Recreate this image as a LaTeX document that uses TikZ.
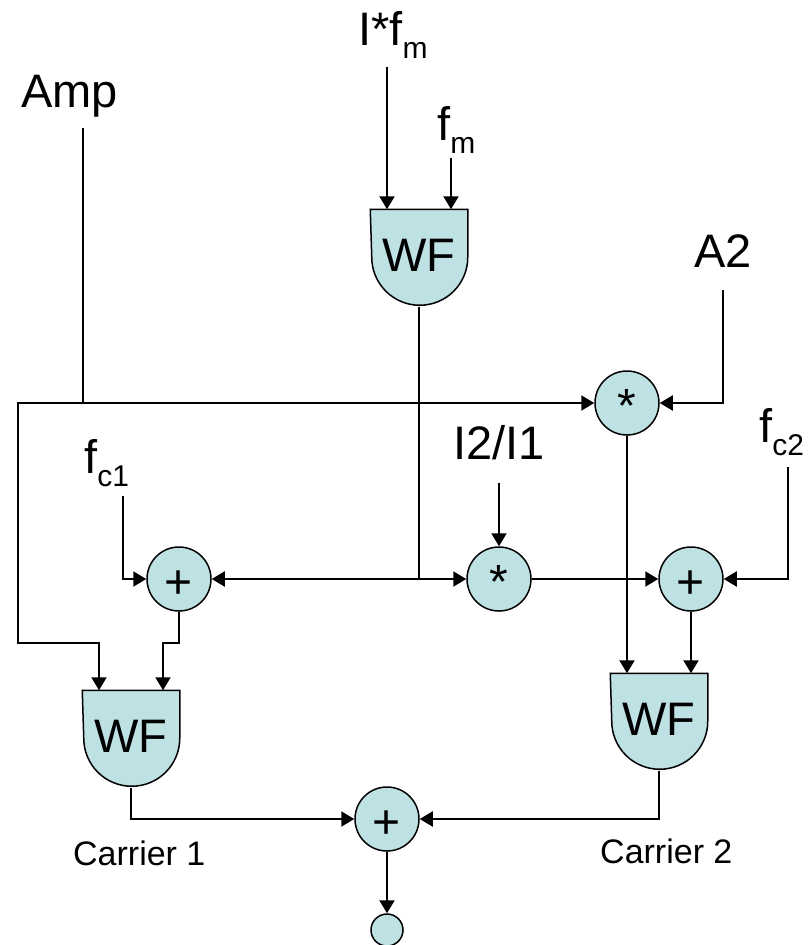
\documentclass[tikz,border=0pt]{standalone}
\usepackage{fontspec}
\setmainfont{Liberation Sans}
\usetikzlibrary{arrows.meta,calc}
\pgfdeclarelayer{background}
\pgfsetlayers{background,main}
\definecolor{boxfill}{RGB}{190,225,228}
\newcommand{\bigf}{\fontsize{47}{50}\selectfont}
\newcommand{\subf}[1]{\raisebox{-13pt}{\fontsize{30}{32}\selectfont #1}}
\begin{document}
\begin{tikzpicture}[x=1pt,y=-1pt,
  wire/.style={line width=2pt},
  arr/.style={wire,-{Triangle[length=13pt,width=15pt]}},
  opnode/.style={circle,draw,line width=1.5pt,fill=boxfill,minimum size=64pt,inner sep=0pt,font=\fontsize{48}{48}\selectfont,text height=38pt,text depth=0pt},
  wfbox/.style={rectangle,minimum width=96pt,minimum height=96pt,inner sep=0pt,outer sep=0.75pt,font=\bigf,text height=26pt,text depth=0pt},
  wfshape/.style={draw,line width=1.5pt,fill=boxfill},
  lbl/.style={anchor=base west,inner sep=0pt,font=\bigf},
  clbl/.style={anchor=base west,inner sep=0pt,font=\fontsize{34}{36}\selectfont}]
\useasboundingbox (0,0) rectangle (811,945);

% blocks
\node[wfbox] (wfm) at (419,258) {WF};
\node[wfbox] (wfa) at (131,739) {WF};
\node[wfbox] (wfb) at (659,722) {WF};
\begin{pgfonlayer}{background}
\foreach \n in {wfm,wfa,wfb}
  \draw[wfshape] (\n.north west) -- (\n.north east) -- ++(0,48) arc[start angle=0,end angle=180,radius=48] -- cycle;
\end{pgfonlayer}

\node[opnode] (mA) at (627,403) {*};
\node[opnode] (a1) at (179,579) {+};
\node[opnode] (mI) at (499,579) {*};
\node[opnode] (a2) at (691,579) {+};
\node[opnode] (sm) at (387,819) {+};
\node[circle,draw,line width=1.5pt,fill=boxfill,minimum size=32pt,inner sep=0pt] (out) at (387,930) {};

% labels
\node[lbl] (tAmp) at (21,107) {Amp};
\node[lbl] (tIfm) at (358,45) {I*f\subf{m}};
\node[lbl] (tfm) at (437,140) {f\subf{m}};
\node[lbl] (tA2) at (694,267) {A2};
\node[lbl] (tI21) at (453,459) {I2/I1};
\node[lbl] (tfc1) at (84,473) {f\subf{c1}};
\node[lbl] (tfc2) at (759,442) {f\subf{c2}};
\node[clbl] (tC1) at (73,865) {Carrier 1};
\node[clbl] (tC2) at (600,863) {Carrier 2};

% free ends and junctions
\coordinate (sIfm) at (387,67);
\coordinate (sfm) at (451,158);
\coordinate (sAmp) at (83,128);
\coordinate (sA2) at (723,290);
\coordinate (sfc1) at (123,496);
\coordinate (sI21) at (499,483);
\coordinate (sfc2) at (788,467);
\coordinate (jW) at (419,579);
\coordinate (jA) at (83,403);
\coordinate (cL) at (18,403);
\coordinate (aL) at (99,643);
\coordinate (a1b) at (163,643);

% connectors
\draw[arr] (sIfm) -- (sIfm |- wfm.north);
\draw[arr] (sfm) -- (sfm |- wfm.north);
\draw[wire] (wfm.south) -- (jW);
\draw[arr] (jW) -- (a1.east);
\draw[arr] (jW) -- (mI.west);
\draw[wire] (sAmp) -- (jA);
\draw[arr] (jA) -- (mA.west);
\draw[arr] (jA) -- (cL) |- (aL) -- (aL |- wfa.north);
\draw[arr] (sA2) |- (mA.east);
\draw[arr] (mA.south) -- (mA.south |- wfb.north);
\draw[arr] (sfc1) |- (a1.west);
\draw[arr] (sI21) -- (mI.north);
\draw[arr] (mI.east) -- (a2.west);
\draw[arr] (sfc2) |- (a2.east);
\draw[arr] (a1.south) |- (a1b) -- (a1b |- wfa.north);
\draw[arr] (a2.south) -- (a2.south |- wfb.north);
\draw[arr] (wfa.south) |- (sm.west);
\draw[arr] (wfb.south) |- (sm.east);
\draw[arr] (sm.south) -- (out.north);
\end{tikzpicture}
\end{document}
